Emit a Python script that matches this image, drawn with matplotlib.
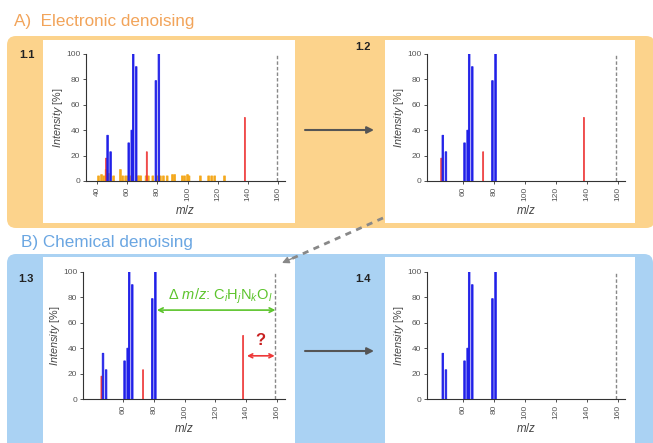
import matplotlib
matplotlib.use('Agg')
import matplotlib.pyplot as plt
from matplotlib.patches import FancyBboxPatch, Rectangle

plt.rcParams['font.family'] = ['Liberation Sans', 'DejaVu Sans']
plt.rcParams['mathtext.fontset'] = 'custom'
plt.rcParams['mathtext.rm'] = 'Liberation Sans'
plt.rcParams['mathtext.it'] = 'Liberation Sans:italic'
plt.rcParams['mathtext.bf'] = 'Liberation Sans:bold'

# ---------------- data ----------------
blue_mz = [47, 49, 61, 63, 64, 66, 79, 81]
blue_int = [36, 23, 30, 40, 100, 90, 79, 100]
red_mz = [46, 73, 138]
red_int = [18, 23, 50]
noise_mz = [41, 43, 44.5, 46, 47.5, 51, 55.5, 57, 59, 60.5, 62.5, 67, 68, 69,
            72.5, 74, 77, 80, 82, 84, 86.5, 90, 91.5, 96.5, 98, 100, 101,
            108.5, 114, 116, 118, 124.5]
noise_int = [4, 5, 4, 9, 6, 4, 9, 4, 4, 4, 4, 4, 4, 4,
             4, 4, 4, 4, 4, 4, 4, 5, 5, 4, 4, 5, 4,
             4, 4, 4, 4, 4]
precursor_mz = 159
ticks_full = [40, 60, 80, 100, 120, 140, 160]
ticks_short = [60, 80, 100, 120, 140, 160]
yticks = [0, 20, 40, 60, 80, 100]

# ---------------- colors ----------------
C_ORANGE_BG = '#FCD38C'
C_BLUE_BG = '#AAD2F3'
C_BLUE = '#2020E8'
C_RED = '#EE3838'
C_NOISE = '#F4A81C'
C_GREEN = '#5CC42C'
C_DARKRED = '#C82020'
C_GREY = '#555555'

W, H = 653, 443
fig = plt.figure(figsize=(W / 100, H / 100), dpi=100)
bg = fig.add_axes([0, 0, 1, 1])
bg.set_xlim(0, W)
bg.set_ylim(H, 0)
bg.axis('off')

# background panels
bg.add_patch(FancyBboxPatch((7, 36), 648, 192, boxstyle='round,pad=0,rounding_size=9',
                            fc=C_ORANGE_BG, ec='none', zorder=1))
bg.add_patch(FancyBboxPatch((7, 254), 646, 200, boxstyle='round,pad=0,rounding_size=9',
                            fc=C_BLUE_BG, ec='none', zorder=1))
for (x0, y0, x1, y1) in [(43, 40, 295, 223), (385, 40, 635, 223),
                         (43, 257, 295, 450), (385, 257, 635, 450)]:
    bg.add_patch(Rectangle((x0, y0), x1 - x0, y1 - y0, fc='white', ec='none', zorder=2))

bg.text(14, 21, 'A)  Electronic denoising', fontsize=12.3, color='#F2A45A',
        va='center', ha='left', zorder=3)
bg.text(21, 242, 'B) Chemical denoising', fontsize=12.3, color='#6AA6E2',
        va='center', ha='left', zorder=3)

for lbl, (x, y) in {'1.1': (19, 55), '1.2': (355, 47), '1.3': (18, 279), '1.4': (355, 279)}.items():
    bg.text(x, y, lbl, fontsize=8, fontweight='bold', color='#222222',
            va='center', ha='left', zorder=3)

# arrows between panels
for yy in (130, 351):
    bg.annotate('', xy=(374, yy), xytext=(305, yy), zorder=3,
                arrowprops=dict(arrowstyle='-|>', color=C_GREY, lw=1.5,
                                mutation_scale=10, shrinkA=0, shrinkB=0))
bg.plot([383, 291], [218, 259], color='#888888', lw=2, linestyle=(0, (2.2, 2)),
        zorder=3, solid_capstyle='butt')
bg.annotate('', xy=(282, 263), xytext=(292, 258.5), zorder=3,
            arrowprops=dict(arrowstyle='-|>', color='#888888', lw=1,
                            mutation_scale=10, shrinkA=0, shrinkB=0))


def make_ax(l, r, t, b, xlim, xt):
    ax = fig.add_axes([l / W, 1 - b / H, (r - l) / W, (b - t) / H])
    ax.patch.set_alpha(0)
    ax.set_xlim(*xlim)
    ax.set_ylim(0, 100)
    for s in ('top', 'right'):
        ax.spines[s].set_visible(False)
    ax.spines['left'].set_bounds(0, 100)
    for s in ('left', 'bottom'):
        ax.spines[s].set_color('#333333')
        ax.spines[s].set_linewidth(0.8)
    ax.set_xticks(xt)
    ax.set_yticks(yticks)
    ax.tick_params(axis='both', labelsize=6, length=2.5, width=0.6,
                   colors='#333333', labelcolor='#555555', pad=1.5)
    ax.tick_params(axis='x', labelrotation=90)
    ax.set_ylabel(r'$\mathit{Intensity}$ [%]', fontsize=7.8, color='#444444', labelpad=1)
    ax.set_xlabel(r'$m/z$', fontsize=8.3, color='#444444', labelpad=2)
    ax.axvline(precursor_mz, ymin=0, ymax=1, color='#888888', lw=1,
               linestyle=(0, (2.5, 1.5)), zorder=1)
    return ax


def peaks(ax, noise=False, red=True):
    if noise:
        ax.bar(noise_mz, noise_int, width=1.2, color=C_NOISE, ec=C_NOISE, lw=0.5,
               zorder=2, snap=False)
    if red:
        ax.bar(red_mz, red_int, width=0.7, color=C_RED, ec=C_RED, lw=0.5,
               zorder=3, snap=False)
    ax.bar(blue_mz, blue_int, width=1.0, color=C_BLUE, ec=C_BLUE, lw=0.6,
           zorder=3, snap=False)


# 1.1
ax1 = make_ax(86, 285, 54, 181, (32.7, 164.6), ticks_full)
peaks(ax1, noise=True)

# 1.2
ax2 = make_ax(427, 625, 54, 181, (36.8, 164.5), ticks_short)
peaks(ax2)

# 1.3
ax3 = make_ax(83, 285, 272, 399, (34, 165.2), ticks_short)
peaks(ax3)
ax3.annotate('', xy=(82, 70), xytext=(159, 70),
             arrowprops=dict(arrowstyle='<->', color=C_GREEN, lw=1.2,
                             shrinkA=0, shrinkB=0, mutation_scale=8))
txt = ax3.text(89, 81, r'$\Delta\ m/z$: C$_i$H$_j$N$_k$O$_l$', fontsize=10.5,
               color=C_GREEN, ha='left', va='center', zorder=0, clip_on=True)
clip = Rectangle((0, 0), 159.6, 100, transform=ax3.transData)
txt.set_clip_path(clip)
ax3.annotate('', xy=(140.5, 34), xytext=(158.5, 34),
             arrowprops=dict(arrowstyle='<->', color=C_RED, lw=1.2,
                             shrinkA=0, shrinkB=0, mutation_scale=7))
ax3.text(149, 46, '?', fontsize=12, fontweight='bold', color=C_DARKRED,
         ha='center', va='center')

# 1.4
ax4 = make_ax(427, 625, 272, 399, (36.8, 164.5), ticks_short)
peaks(ax4, red=False)

fig.savefig('out.png', dpi=100)
